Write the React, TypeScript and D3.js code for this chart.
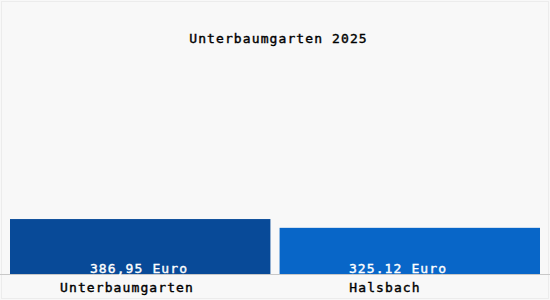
import React from "react";
import * as d3 from "d3";

const categories = ["Unterbaumgarten", "Halsbach"];
const values = [386.95, 325.12];
const valueLabels = ["386,95 Euro", "325.12 Euro"];
const colors = ["#084a98", "#0866c8"];
const title = "Unterbaumgarten 2025";

const W = 550;
const H = 300;

export default function App() {
  const x = d3.scaleBand<string>().domain(categories).range([10, 540]).paddingInner(0.034);
  const y = d3.scaleLinear().domain([0, 1500]).range([274, 61]);
  const labelX = d3.scalePoint<string>().domain(categories).range([127, 385]);
  const valueX = d3.scalePoint<string>().domain(categories).range([139, 398]);
  const font = "'DejaVu Sans Mono', monospace";
  const textProps = { fontSize: 13, letterSpacing: 1.1, strokeWidth: 0.4 };
  return (
    <svg
      width={W}
      height={H}
      style={{ position: "absolute", left: 0, top: 0, display: "block" }}
      fontFamily={font}
    >
      <rect x={0} y={0} width={W} height={H} fill="#f8f8f8" />
      <rect x={1.5} y={1.5} width={W - 3} height={H - 3} fill="none" stroke="#ececec" />
      <text x={278.5} y={43} textAnchor="middle" {...textProps} fill="#000" stroke="#000">
        {title}
      </text>
      {categories.map((c, i) => (
        <rect
          key={c}
          x={x(c)}
          y={y(values[i])}
          width={x.bandwidth()}
          height={y(0) - y(values[i])}
          fill={colors[i]}
        />
      ))}
      <line x1={0} x2={W} y1={274.5} y2={274.5} stroke="#c8c8c8" />
      {categories.map((c, i) => (
        <text
          key={c + "v"}
          x={valueX(c)}
          y={273}
          textAnchor="middle"
          {...textProps}
          fill="#fff"
          stroke="#fff"
        >
          {valueLabels[i]}
        </text>
      ))}
      {categories.map((c) => (
        <text
          key={c + "l"}
          x={labelX(c)}
          y={292}
          textAnchor="middle"
          {...textProps}
          fill="#000"
          stroke="#000"
        >
          {c}
        </text>
      ))}
    </svg>
  );
}
